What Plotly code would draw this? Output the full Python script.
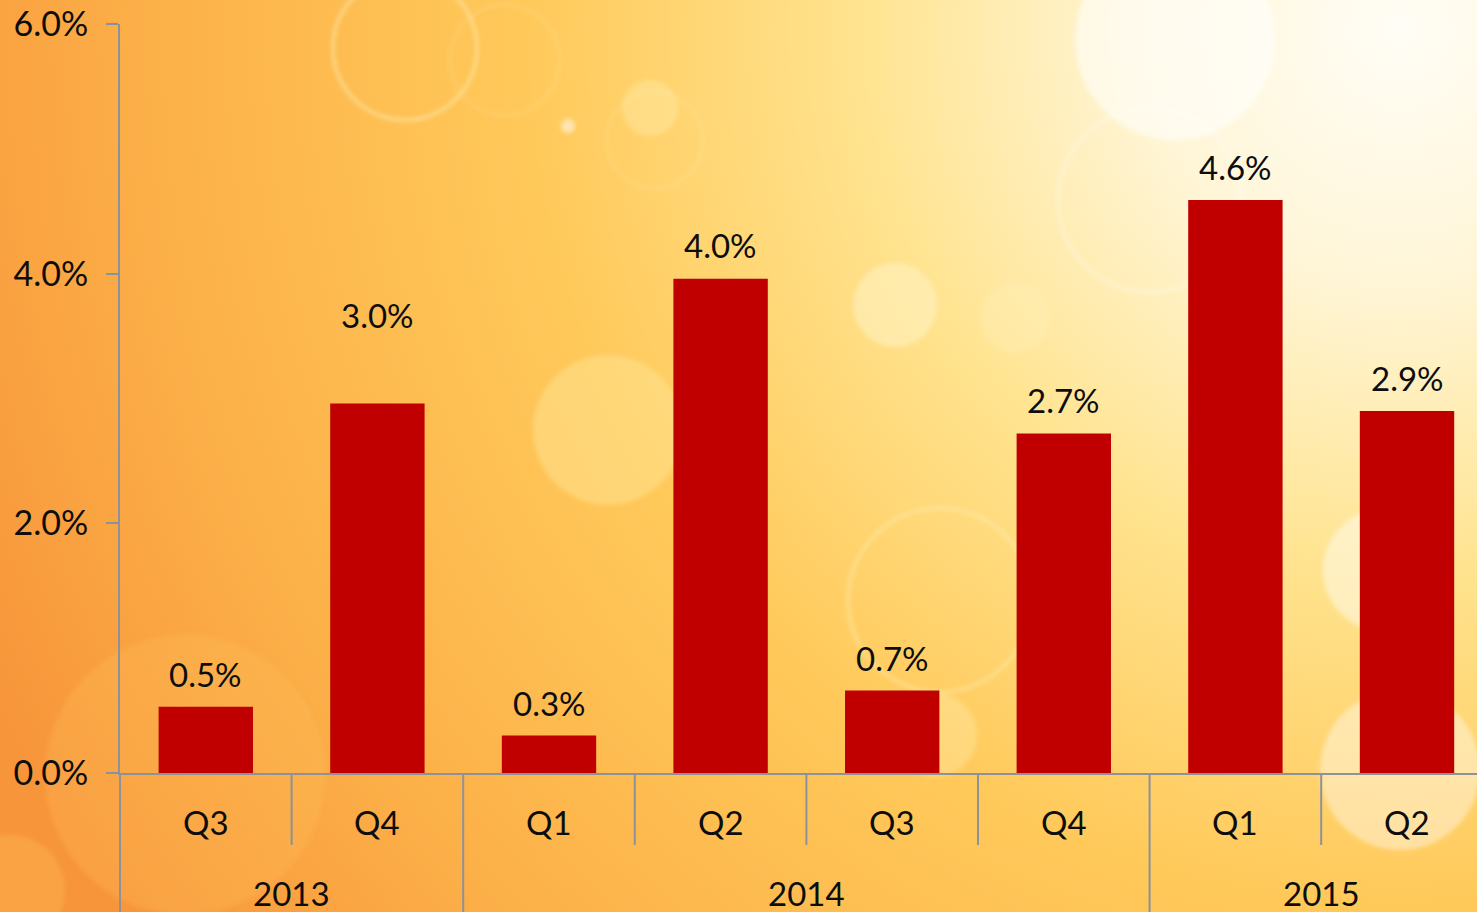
import base64
import plotly.graph_objects as go

# ---- data ----
years = ["2013", "2013", "2014", "2014", "2014", "2014", "2015", "2015"]
quarters = ["Q3", "Q4", "Q1", "Q2", "Q3", "Q4", "Q1", "Q2"]
growth = [0.53, 2.96, 0.30, 3.96, 0.66, 2.72, 4.59, 2.90]
y_ticks = [0, 2, 4, 6]

# label offsets above bar tops (pixels) - styling only
label_shift = [33, 88, 33, 34, 33, 33, 33, 33]

W, H = 1477, 912
ML, MT, MB, MR = 120, 24, 139, 0
plot_w = W - ML - MR
plot_h = H - MT - MB

FONT = "Lato"
AX = "#8C929B"
BAR = "#C00000"

# ---- background (gradient + bokeh) as an SVG image ----
circles = [
    # cx, cy, r, fill, fill_op, stroke_op, stroke_w
    (405, 48, 72, "#FFF4C0", 0.0, 0.55, 3),
    (505, 60, 55, "#FFF4C0", 0.0, 0.25, 2),
    (650, 108, 28, "#FFF4C0", 0.30, 0.0, 0),
    (655, 140, 48, "#FFF4C0", 0.0, 0.25, 2),
    (568, 126, 7, "#FFFFFF", 0.5, 0.0, 0),
    (608, 430, 75, "#FFE79A", 0.45, 0.0, 0),
    (895, 305, 42, "#FFF2C4", 0.55, 0.0, 0),
    (1015, 318, 35, "#FFF2C4", 0.25, 0.0, 0),
    (940, 600, 92, "#FFF4C0", 0.0, 0.45, 3),
    (935, 735, 42, "#FFF4C0", 0.30, 0.0, 0),
    (1150, 200, 92, "#FFFFFF", 0.0, 0.35, 3),
    (1175, 40, 100, "#FFFFFF", 0.55, 0.0, 0),
    (1385, 570, 62, "#FFFFFF", 0.45, 0.0, 0),
    (1400, 770, 80, "#FFFFFF", 0.40, 0.0, 0),
    (185, 775, 140, "#FFC260", 0.25, 0.0, 0),
    (10, 890, 55, "#FFC260", 0.30, 0.0, 0),
]
circ_svg = "".join(
    f'<circle cx="{cx}" cy="{cy}" r="{r}" fill="{f}" fill-opacity="{fo}" '
    f'stroke="{f}" stroke-opacity="{so}" stroke-width="{sw}"/>'
    for cx, cy, r, f, fo, so, sw in circles
)
svg = f'''<svg xmlns="http://www.w3.org/2000/svg" width="{W}" height="{H}" viewBox="0 0 {W} {H}">
<defs>
<radialGradient id="g" gradientUnits="userSpaceOnUse" cx="1400" cy="30" r="1560">
<stop offset="0" stop-color="#FFFDF6"/>
<stop offset="0.16" stop-color="#FFF6D8"/>
<stop offset="0.35" stop-color="#FFE38E"/>
<stop offset="0.56" stop-color="#FFC95A"/>
<stop offset="0.80" stop-color="#FCB048"/>
<stop offset="1" stop-color="#F7953A"/>
</radialGradient>
<filter id="b"><feGaussianBlur stdDeviation="2"/></filter>
</defs>
<rect width="{W}" height="{H}" fill="url(#g)"/>
<g filter="url(#b)">{circ_svg}</g>
</svg>'''
bg_src = "data:image/svg+xml;base64," + base64.b64encode(svg.encode()).decode()

x_idx = list(range(len(quarters)))
cat_w = 171.6
x_range = [-0.5, -0.5 + plot_w / cat_w]

fig = go.Figure()
fig.add_trace(go.Bar(x=x_idx, y=growth, width=0.55, marker=dict(color=BAR, line=dict(width=0)),
                     hoverinfo="skip"))

def py(px):
    return (H - MB - px) / plot_h

annotations = []
for i, v in enumerate(growth):
    annotations.append(dict(x=i, y=v, xref="x", yref="y", text=f"{v:.1f}%", showarrow=False,
                            yanchor="middle", yshift=label_shift[i],
                            font=dict(family=FONT, size=33, color="#0D0D0D")))
for i, q in enumerate(quarters):
    annotations.append(dict(x=i, y=py(822), xref="x", yref="paper", text=q, showarrow=False,
                            yanchor="middle", font=dict(family=FONT, size=33, color="#0D0D0D")))
# year labels centred on their group
groups = []
for i, y in enumerate(years):
    if groups and groups[-1][0] == y:
        groups[-1][2] = i
    else:
        groups.append([y, i, i])
for y, a, b in groups:
    annotations.append(dict(x=(a + b) / 2, y=py(893), xref="x", yref="paper", text=y, showarrow=False,
                            yanchor="middle", font=dict(family=FONT, size=33, color="#0D0D0D")))

shapes = []
for i in range(len(quarters) - 1):
    boundary = years[i] != years[i + 1]
    shapes.append(dict(type="line", xref="x", yref="paper", x0=i + 0.5, x1=i + 0.5,
                       y0=0, y1=py(912 if boundary else 845),
                       line=dict(color=AX, width=2)))
shapes.append(dict(type="line", xref="paper", yref="paper", x0=0, x1=0, y0=0, y1=py(912),
                   line=dict(color=AX, width=2)))

fig.update_layout(
    width=W, height=H,
    margin=dict(l=ML, r=MR, t=MT, b=MB, pad=0),
    paper_bgcolor="#F9A540",
    plot_bgcolor="rgba(0,0,0,0)",
    showlegend=False,
    images=[dict(source=bg_src, xref="paper", yref="paper",
                 x=-ML / plot_w, y=(H - MB) / plot_h, sizex=W / plot_w, sizey=H / plot_h,
                 xanchor="left", yanchor="top", sizing="stretch", layer="below")],
    xaxis=dict(range=x_range, showticklabels=False, ticks="", showgrid=False, zeroline=False,
               showline=True, linecolor=AX, linewidth=2, fixedrange=True),
    yaxis=dict(range=[0, 6], tickvals=y_ticks, ticktext=[f"{t:.1f}%" for t in y_ticks],
               ticks="outside", ticklen=12, tickwidth=2, tickcolor=AX,
               showline=True, linecolor=AX, linewidth=2, showgrid=False, zeroline=False,
               tickfont=dict(family=FONT, size=34, color="#0D0D0D"), ticklabelstandoff=11),
    annotations=annotations,
    shapes=shapes,
    bargap=0.45,
)

fig.write_html("out.html")
